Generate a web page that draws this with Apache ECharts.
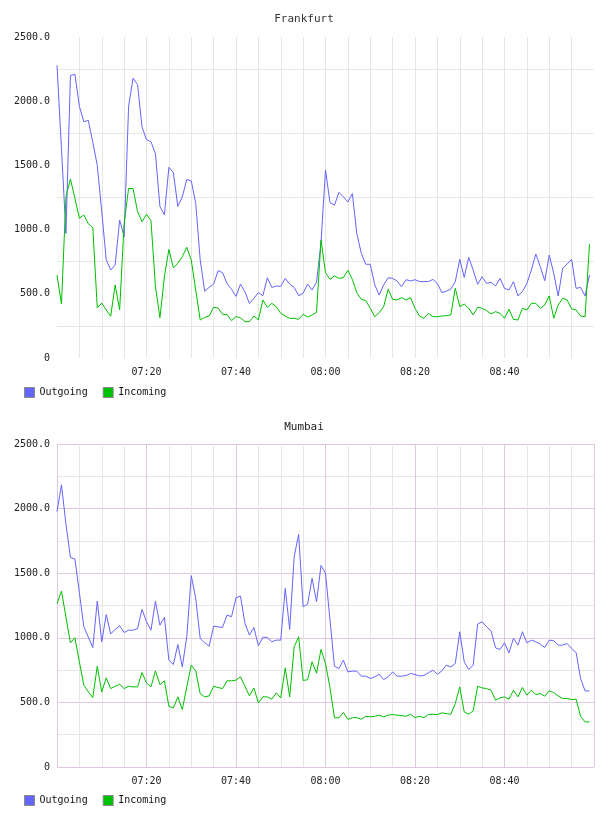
<!DOCTYPE html>
<html>
<head>
<meta charset="utf-8">
<title>Frankfurt / Mumbai traffic</title>
<script src="https://cdn.jsdelivr.net/npm/echarts@6/dist/echarts.min.js"></script>
<style>
  html, body { margin: 0; padding: 0; background: #fff; }
  #chart { width: 608px; height: 816px; }
</style>
</head>
<body>
<div id="chart"></div>
<script>
// one sample per minute, starting 07:00
const startLabel = '07:00'
const times = []
for (let k = 0; k < 120; k++) {
  const m = 7 * 60 + k
  times.push(String(Math.floor(m / 60)).padStart(2, '0') + ':' + String(m % 60).padStart(2, '0'))
}

const seriesNames = ['Outgoing', 'Incoming']
const yTicks = [0, 500, 1000, 1500, 2000, 2500]
const xTickLabels = ['07:20', '07:40', '08:00', '08:20', '08:40']

const frankfurtOut = [
  2280, 1630, 970, 2200, 2210, 1960, 1840, 1850, 1680, 1500,
  1140, 765, 685, 725, 1075, 945, 1960, 2180, 2130, 1800,
  1700, 1685, 1590, 1180, 1115, 1485, 1445, 1180, 1255, 1390,
  1380, 1205, 765, 520, 550, 575, 680, 665, 580, 535,
  480, 575, 515, 425, 465, 510, 485, 625, 550, 560,
  560, 620, 575, 550, 485, 505, 575, 530, 590, 900,
  1465, 1210, 1190, 1290, 1255, 1215, 1280, 970, 815, 730,
  730, 570, 490, 570, 625, 620, 600, 555, 610, 600,
  610, 595, 595, 595, 612, 580, 510, 520, 537, 595,
  768, 628, 784, 685, 574, 633, 581, 589, 561, 620,
  542, 530, 594, 483, 517, 581, 685, 810, 711, 602,
  802, 659, 483, 698, 732, 768, 542, 550, 483, 646
]
const frankfurtIn = [
  646, 420, 1256, 1394, 1244, 1088, 1114, 1045, 1015, 390,
  428, 374, 325, 569, 374, 1049, 1320, 1320, 1140, 1062,
  1119, 1070, 555, 314, 633, 846, 703, 737, 789, 862,
  763, 530, 296, 317, 327, 395, 390, 340, 338, 291,
  322, 314, 283, 283, 327, 296, 452, 395, 426, 400,
  348, 327, 309, 309, 301, 340, 320, 335, 355, 920,
  665, 612, 640, 620, 626, 683, 612, 509, 457, 447,
  387, 322, 353, 400, 535, 457, 452, 470, 452, 470,
  387, 327, 309, 348, 322, 322, 327, 330, 335, 543,
  400, 420, 387, 335, 395, 387, 369, 343, 361, 348,
  309, 379, 301, 296, 387, 374, 426, 426, 387, 413,
  483, 309, 413, 465, 452, 382, 374, 327, 322, 888
]
const mumbaiOut = [
  1977, 2184, 1880, 1623, 1610, 1350, 1085, 1005, 925, 1285,
  969, 1180, 1030, 1065, 1093, 1041, 1059, 1059, 1072, 1220,
  1124, 1059, 1283, 1098, 1158, 827, 793, 948, 775, 1008,
  1481, 1305, 995, 961, 935, 1090, 1085, 1080, 1176, 1163,
  1310, 1323, 1111, 1021, 1080, 938, 1003, 1003, 969, 982,
  982, 1382, 1065, 1628, 1800, 1240, 1260, 1460, 1280, 1560,
  1500, 1140, 780, 762, 827, 736, 742, 742, 703, 703,
  685, 698, 718, 677, 698, 736, 703, 703, 708, 724,
  716, 705, 708, 729, 749, 718, 744, 788, 775, 801,
  1047, 814, 755, 788, 1106, 1124, 1085, 1054, 922, 910,
  961, 884, 995, 943, 1047, 961, 982, 969, 951, 925,
  982, 977, 943, 943, 956, 917, 886, 685, 589, 589
]
const mumbaiIn = [
  1264, 1362, 1160, 961, 1000, 814, 633, 581, 537, 780,
  581, 690, 607, 625, 641, 607, 625, 620, 620, 731,
  651, 620, 744, 638, 667, 470, 457, 543, 444, 620,
  788, 744, 568, 543, 550, 625, 615, 607, 667, 667,
  672, 698, 625, 550, 612, 496, 543, 543, 525, 574,
  535, 767, 543, 930, 1008, 670, 675, 814, 726, 910,
  800, 615, 381, 381, 422, 369, 382, 382, 369, 393,
  388, 393, 401, 388, 401, 406, 401, 398, 393, 408,
  382, 393, 382, 406, 408, 406, 419, 413, 408, 491,
  620, 426, 408, 434, 625, 612, 607, 594, 517, 535,
  543, 525, 594, 543, 615, 556, 594, 561, 568, 548,
  589, 576, 550, 530, 530, 522, 525, 393, 349, 349
]

const toMin = t => {
  const p = t.split(':')
  return (+p[0]) * 60 + (+p[1])
}
const t0 = toMin(startLabel)
const pairs = vals => times.map((t, k) => [toMin(t) - t0, vals[k]])
const fmtTime = m => {
  const a = t0 + m
  return String(Math.floor(a / 60)).padStart(2, '0') + ':' + String(a % 60).padStart(2, '0')
}

const MONO = 'DejaVu Sans Mono'
const BLUE = '#6464ff'
const GREEN = '#00c000'
const GRAY = '#e6e6e6'
const PINK = '#e0c6e0'
const NONE = 'rgba(0,0,0,0)'

const xLabel = {
  margin: 9, fontFamily: MONO, fontSize: 10, color: '#222',
  formatter: v => (xTickLabels.indexOf(fmtTime(v)) >= 0 ? fmtTime(v) : '')
}
const yLabel = {
  margin: 7, fontFamily: MONO, fontSize: 10, color: '#222',
  formatter: v => (yTicks.indexOf(v) >= 0 ? (v === 0 ? '0' : v.toFixed(1)) : '')
}

// frankfurt: no border, grid lines only between the labelled values
const fraVLines = []
for (let k = 0; k <= 24; k++) fraVLines.push(k === 0 || k === 24 ? NONE : GRAY)

const chart = echarts.init(document.getElementById('chart'), null, { renderer: 'canvas' })

const option = {
  animation: false,
  backgroundColor: '#fff',
  title: [
    { text: 'Frankfurt', left: 'center', top: 9,
      textStyle: { fontFamily: MONO, fontSize: 11, fontWeight: 'normal', color: '#333' } },
    { text: 'Mumbai', left: 'center', top: 417,
      textStyle: { fontFamily: MONO, fontSize: 11, fontWeight: 'normal', color: '#222' } }
  ],
  legend: [
    { left: 19, top: 382, icon: 'rect', itemWidth: 10, itemHeight: 10, itemGap: 15,
      itemStyle: { borderColor: '#8a8a8a', borderWidth: 1 },
      textStyle: { fontFamily: MONO, fontSize: 10, color: '#111' }, data: seriesNames },
    { left: 19, top: 790, icon: 'rect', itemWidth: 10, itemHeight: 10, itemGap: 15,
      itemStyle: { borderColor: '#8a8a8a', borderWidth: 1 },
      textStyle: { fontFamily: MONO, fontSize: 10, color: '#111' }, data: seriesNames }
  ],
  grid: [
    { left: 57, top: 37, width: 537, height: 321 },
    { left: 57, top: 444, width: 537, height: 323 }
  ],
  xAxis: [
    { type: 'value', gridIndex: 0, min: 0, max: 120, interval: 5,
      axisLine: { show: false }, axisTick: { show: false }, axisLabel: xLabel,
      splitLine: { show: true, lineStyle: { color: fraVLines, width: 1 } } },
    { type: 'value', gridIndex: 1, min: 0, max: 120, interval: 5,
      axisLine: { show: false }, axisTick: { show: false }, axisLabel: xLabel,
      splitLine: { show: true, lineStyle: { color: [PINK, GRAY, GRAY, GRAY], width: 1 } } }
  ],
  yAxis: [
    { type: 'value', gridIndex: 0, min: 0, max: 2500, interval: 250,
      axisLine: { show: false }, axisTick: { show: false }, axisLabel: yLabel,
      splitLine: { show: true, lineStyle: { color: [NONE, GRAY], width: 1 } } },
    { type: 'value', gridIndex: 1, min: 0, max: 2500, interval: 250,
      axisLine: { show: false }, axisTick: { show: false }, axisLabel: yLabel,
      splitLine: { show: true, lineStyle: { color: [PINK, GRAY], width: 1 } } }
  ],
  series: [
    { name: 'Outgoing', type: 'line', xAxisIndex: 0, yAxisIndex: 0, data: pairs(frankfurtOut),
      showSymbol: false, color: BLUE, lineStyle: { width: 1 } },
    { name: 'Incoming', type: 'line', xAxisIndex: 0, yAxisIndex: 0, data: pairs(frankfurtIn),
      showSymbol: false, color: GREEN, lineStyle: { width: 1 } },
    { name: 'Outgoing', type: 'line', xAxisIndex: 1, yAxisIndex: 1, data: pairs(mumbaiOut),
      showSymbol: false, color: BLUE, lineStyle: { width: 1 } },
    { name: 'Incoming', type: 'line', xAxisIndex: 1, yAxisIndex: 1, data: pairs(mumbaiIn),
      showSymbol: false, color: GREEN, lineStyle: { width: 1 } }
  ]
}

chart.setOption(option)
</script>
</body>
</html>
